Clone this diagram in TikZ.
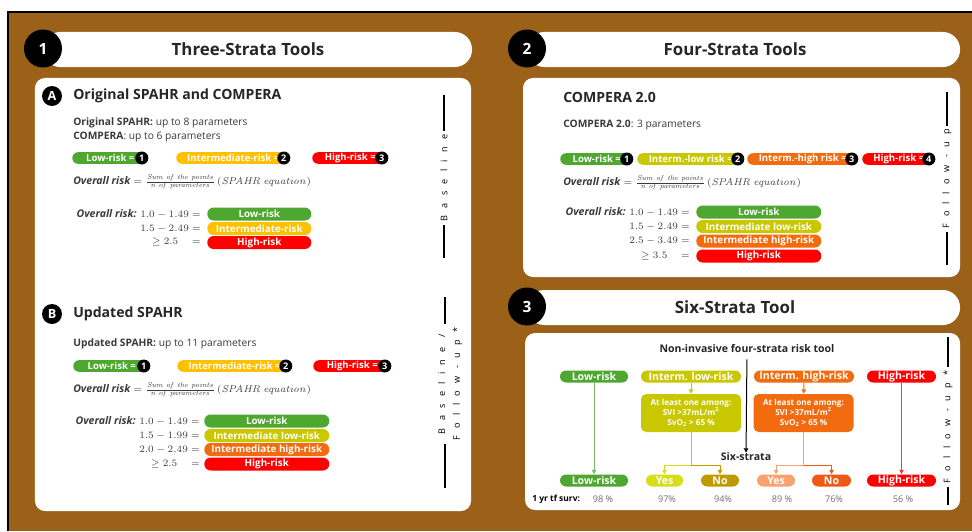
\documentclass[tikz,border=0pt]{standalone}
\usepackage[no-math]{fontspec}
\setmainfont{Open Sans}
\newfontfamily\spacedfont[LetterSpace=80]{Open Sans}
\usepackage{xcolor}
\usepackage{tikz}
\usetikzlibrary{arrows.meta,positioning,calc}
\definecolor{frame}{HTML}{9C6119}
\definecolor{lowgreen}{HTML}{4EA72E}
\definecolor{midgold}{HTML}{FFC000}
\definecolor{highred}{HTML}{FF0000}
\definecolor{lowmid}{HTML}{C9C800}
\definecolor{highmid}{HTML}{F26B0F}
\definecolor{yeslow}{HTML}{D6DE1A}
\definecolor{nolow}{HTML}{BF9A00}
\definecolor{yeshigh}{HTML}{F8A270}
\definecolor{nohigh}{HTML}{EE5A14}
\definecolor{bodygray}{HTML}{3A3A3A}
\definecolor{survgray}{HTML}{6E6E6E}
\tikzset{
  panel/.style={fill=white, rounded corners=2.5mm, inner sep=0pt},
  headpill/.style={fill=white, rounded corners=4.3mm, minimum height=8.75mm, inner sep=0pt},
  headtitle/.style={font=\fontsize{12}{14}\selectfont\bfseries, text=black!85, inner sep=0pt},
  numdot/.style={circle, fill=black, text=white, minimum size=9.5mm, inner sep=0pt, font=\fontsize{11}{13}\selectfont\bfseries},
  letterdot/.style={circle, fill=black, text=white, minimum size=5mm, inner sep=0pt, font=\fontsize{9}{10}\selectfont\bfseries},
  subhead/.style={anchor=west, inner sep=0pt, font=\fontsize{10}{12}\selectfont\bfseries, text=black!85},
  bodytext/.style={anchor=west, align=left, inner sep=0pt, font=\fontsize{7.3}{10}\selectfont, text=bodygray},
  scorepill/.style={anchor=west, rounded corners=1.45mm, minimum height=2.9mm, inner sep=0pt, text=white, font=\fontsize{6.8}{8}\selectfont\bfseries},
  rankdot/.style={anchor=east, circle, fill=black, text=white, minimum size=3.25mm, inner sep=0pt, font=\fontsize{6.5}{7}\selectfont\bfseries},
  eqtext/.style={anchor=west, inner sep=0pt, font=\fontsize{7.5}{9}\selectfont, text=bodygray},
  rangetext/.style={anchor=east, inner sep=0pt, font=\fontsize{7.5}{9}\selectfont, text=bodygray},
  riskbar/.style={anchor=west, rounded corners=1.6mm, minimum height=3.25mm, inner sep=0pt, text=white, font=\fontsize{7}{8}\selectfont\bfseries},
  sidelabel/.style={rotate=90, align=center, inner sep=0pt, font=\spacedfont\fontsize{6.5}{10.5}\selectfont},
  sideline/.style={draw=black, line width=0.3mm},
  flowtitle/.style={inner sep=0pt, font=\fontsize{7.5}{9}\selectfont\bfseries, text=black!85},
  strata/.style={rounded corners=1.5mm, minimum height=3mm, inner sep=0pt, text=white, font=\fontsize{7.5}{8}\selectfont\bfseries},
  critbox/.style={rounded corners=1.3mm, minimum width=25mm, minimum height=9.5mm, inner sep=0pt, align=center, text=white, font=\fontsize{5.8}{7.2}\selectfont\bfseries},
  flow/.style={-{Triangle[length=1.1mm,width=1.1mm]}, line width=0.25mm},
  survtext/.style={inner sep=0pt, font=\fontsize{6.5}{8}\selectfont, text=survgray}
}
\newcommand{\riskeq}{\textbf{\textit{Overall risk}} $=\frac{\mathit{Sum\ of\ the\ points}}{\mathit{n\ of\ parameters}}\,(\mathit{SPAHR\ equation})$}

\begin{document}
\begin{tikzpicture}[x=0.25mm, y=-0.25mm]
  \useasboundingbox (0,0) rectangle (972,531);
  \fill[frame] (8,12) rectangle (972,531);
  \draw[line width=0.4mm] (8,531) -- (8,12) -- (972,12);

  \node[headpill, minimum width=107.25mm] (head1) at (257.5,49.5) {};
  \node[numdot] (num1) at (43,48.5) {1};
  \node[headtitle] (title1) at (248,49.5) {Three-Strata Tools};
  \node[headpill, minimum width=108.25mm] (head2) at (743.5,49.5) {};
  \node[numdot] (num2) at (527,48.5) {2};
  \node[headtitle] (title2) at (735,49.5) {Four-Strata Tools};
  \node[headpill, minimum width=108.25mm] (head3) at (743.5,307.5) {};
  \node[numdot] (num3) at (527,306.5) {3};
  \node[headtitle] (title3) at (735,307.5) {Six-Strata Tool};

  \node[panel, minimum width=109mm, minimum height=108.25mm] (panel1) at (253,294.5) {};
  \node[panel, minimum width=109.25mm, minimum height=49.75mm] (panel2) at (741.5,177.5) {};
  \node[panel, minimum width=108.75mm, minimum height=44.25mm] (panel3) at (742.5,421.5) {};

  \node[letterdot] (dotA) at (52,96) {A};
  \node[subhead] (headA) at (73,96) {Original SPAHR and COMPERA};
  \node[bodytext] (paramsA) at (73,130) {\textbf{Original SPAHR:} up to 8 parameters\\\textbf{COMPERA}: up to 6 parameters};
  \node[scorepill, fill=lowgreen, minimum width=19mm] (aLow) at (72,158) {Low-risk =\hspace{3.2mm}};
  \node[rankdot] (aLowRank) at (aLow.east) {1};
  \node[scorepill, fill=midgold, minimum width=28.5mm] (aMid) at (176,158) {Intermediate-risk =\hspace{3.2mm}};
  \node[rankdot] (aMidRank) at (aMid.east) {2};
  \node[scorepill, fill=highred, minimum width=19mm] (aHigh) at (312,158) {High-risk =\hspace{3.2mm}};
  \node[rankdot] (aHighRank) at (aHigh.east) {3};
  \node[eqtext] (eqA) at (73,182) {\riskeq};
  \node[rangetext] (aRange1) at (201,214) {\textbf{\textit{Overall risk:}} $1.0-1.49=$};
  \node[riskbar, fill=lowgreen, minimum width=26mm] (aBar1) at (207,214) {Low-risk};
  \node[rangetext] (aRange2) at (201,228.5) {$1.5-2.49=$};
  \node[riskbar, fill=midgold, minimum width=26mm] (aBar2) at (207,228.5) {Intermediate-risk};
  \node[rangetext] (aRange3) at (201,242.5) {$\geq 2.5\quad=$};
  \node[riskbar, fill=highred, minimum width=26mm] (aBar3) at (207,242.5) {High-risk};
  \node[sidelabel] (sideA) at (444,178) {Baseline};
  \coordinate (sideAtop) at (444,95);
  \coordinate (sideAbot) at (444,258);
  \draw[sideline, shorten <=0.8mm] (sideA.east -| sideAtop) -- (sideAtop);
  \draw[sideline, shorten <=0.8mm] (sideA.west -| sideAbot) -- (sideAbot);

  \node[letterdot] (dotB) at (52,314) {B};
  \node[subhead] (headB) at (73,314) {Updated SPAHR};
  \node[bodytext] (paramsB) at (73,344) {\textbf{Updated SPAHR:} up to 11 parameters};
  \node[scorepill, fill=lowgreen, minimum width=19.25mm] (bLow) at (73,366) {Low-risk =\hspace{3.2mm}};
  \node[rankdot] (bLowRank) at (bLow.east) {1};
  \node[scorepill, fill=midgold, minimum width=28.75mm] (bMid) at (177,366) {Intermediate-risk =\hspace{3.2mm}};
  \node[rankdot] (bMidRank) at (bMid.east) {2};
  \node[scorepill, fill=highred, minimum width=19.5mm] (bHigh) at (313,366) {High-risk =\hspace{3.2mm}};
  \node[rankdot] (bHighRank) at (bHigh.east) {3};
  \node[eqtext] (eqB) at (73,390) {\riskeq};
  \node[rangetext] (bRange1) at (200,421) {\textbf{\textit{Overall risk:}} $1.0-1.49=$};
  \node[riskbar, fill=lowgreen, minimum width=31.25mm] (bBar1) at (204,421) {Low-risk};
  \node[rangetext] (bRange2) at (200,435.5) {$1.5-1.99=$};
  \node[riskbar, fill=lowmid, minimum width=31.25mm] (bBar2) at (204,435.5) {Intermediate low-risk};
  \node[rangetext] (bRange3) at (200,449.5) {$2.0-2.49=$};
  \node[riskbar, fill=highmid, minimum width=31.25mm] (bBar3) at (204,449.5) {Intermediate high-risk};
  \node[rangetext] (bRange4) at (200,464) {$\geq 2.5\quad=$};
  \node[riskbar, fill=highred, minimum width=31.25mm] (bBar4) at (204,464) {High-risk};
  \node[sidelabel] (sideB) at (450,384) {Baseline /\\Follow-up*};
  \coordinate (sideBtop) at (445,297);
  \coordinate (sideBbot) at (445,488);
  \draw[sideline, shorten <=0.8mm] (sideB.east -| sideBtop) -- (sideBtop);
  \draw[sideline, shorten <=0.8mm] (sideB.west -| sideBbot) -- (sideBbot);

  \node[subhead] (head2b) at (563,97) {COMPERA 2.0};
  \node[bodytext] (params2) at (563,125) {\textbf{COMPERA 2.0}: 3 parameters};
  \node[scorepill, fill=lowgreen, minimum width=18.25mm] (cLow) at (560,159) {Low-risk =\hspace{3.2mm}};
  \node[rankdot] (cLowRank) at (cLow.east) {1};
  \node[scorepill, fill=lowmid, minimum width=26.75mm] (cLowMid) at (637,159) {Interm.-low risk =\hspace{3.2mm}};
  \node[rankdot] (cLowMidRank) at (cLowMid.east) {2};
  \node[scorepill, fill=highmid, minimum width=27.75mm] (cHighMid) at (747,159) {Interm.-high risk =\hspace{3.2mm}};
  \node[rankdot] (cHighMidRank) at (cHighMid.east) {3};
  \node[scorepill, fill=highred, minimum width=18.25mm] (cHigh) at (862,159) {High-risk =\hspace{3.2mm}};
  \node[rankdot] (cHighRank) at (cHigh.east) {4};
  \node[eqtext] (eqC) at (563,183) {\riskeq};
  \node[rangetext] (cRange1) at (690,212) {\textbf{\textit{Overall risk:}} $1.0-1.49=$};
  \node[riskbar, fill=lowgreen, minimum width=31.25mm] (cBar1) at (696,212) {Low-risk};
  \node[rangetext] (cRange2) at (690,226.5) {$1.5-2.49=$};
  \node[riskbar, fill=lowmid, minimum width=31.25mm] (cBar2) at (696,226.5) {Intermediate low-risk};
  \node[rangetext] (cRange3) at (690,241) {$2.5-3.49=$};
  \node[riskbar, fill=highmid, minimum width=31.25mm] (cBar3) at (696,241) {Intermediate high-risk};
  \node[rangetext] (cRange4) at (690,256) {$\geq 3.5\quad=$};
  \node[riskbar, fill=highred, minimum width=31.25mm] (cBar4) at (696,256) {High-risk};
  \node[sidelabel] (side2) at (947,179) {Follow-up};
  \coordinate (side2top) at (947,92);
  \coordinate (side2bot) at (947,265);
  \draw[sideline, shorten <=0.8mm] (side2.east -| side2top) -- (side2top);
  \draw[sideline, shorten <=0.8mm] (side2.west -| side2bot) -- (side2bot);

  \node[flowtitle] (ntitle) at (747,349) {Non-invasive four-strata risk tool};
  \node[strata, fill=lowgreen, minimum width=17mm] (topLow) at (594,376.5) {Low-risk};
  \node[strata, fill=lowmid, minimum width=25mm] (topLowMid) at (691,376.5) {Interm. low-risk};
  \node[strata, fill=highmid, minimum width=25mm] (topHighMid) at (804,376.5) {Interm. high-risk};
  \node[strata, fill=highred, minimum width=17.25mm] (topHigh) at (901.5,376.5) {High-risk};
  \node[critbox, fill=lowmid] (critLow) at (691,413) {At least one among:\\SVI >37mL/m\textsuperscript{2}\\SvO\textsubscript{2} > 65 \%};
  \node[critbox, fill=highmid] (critHigh) at (803.5,413) {At least one among:\\SVI >37mL/m\textsuperscript{2}\\SvO\textsubscript{2} > 65 \%};
  \node[flowtitle] (stitle) at (746,457) {Six-strata};
  \node[strata, fill=lowgreen, minimum width=17mm] (endLow) at (594,480.5) {Low-risk};
  \node[strata, fill=yeslow, minimum width=9.25mm] (yesLow) at (664.5,480.5) {Yes};
  \node[strata, fill=nolow, minimum width=9.5mm] (noLow) at (720,480.5) {No};
  \node[strata, fill=yeshigh, minimum width=9.5mm] (yesHigh) at (776,480.5) {Yes};
  \node[strata, fill=nohigh, minimum width=9.75mm] (noHigh) at (831.5,480.5) {No};
  \node[strata, fill=highred, minimum width=17.25mm] (endHigh) at (901.5,480.5) {High-risk};
  \coordinate (forkLow) at (691,465);
  \coordinate (forkHigh) at (803.5,465);
  \draw[flow, shorten <=1.5mm] (ntitle) -- (stitle);
  \draw[flow, lowgreen!75] (topLow) -- (endLow);
  \draw[flow, lowmid] (topLowMid) -- (critLow);
  \draw[lowmid, line width=0.25mm] (critLow) -- (forkLow);
  \draw[flow, yeslow] (forkLow) -| (yesLow);
  \draw[flow, nolow] (forkLow) -| (noLow);
  \draw[flow, highmid] (topHighMid) -- (critHigh);
  \draw[yeshigh, line width=0.25mm] (critHigh) -- (forkHigh);
  \draw[flow, yeshigh] (forkHigh) -| (yesHigh);
  \draw[flow, nohigh] (forkHigh) -| (noHigh);
  \draw[flow, highred!80] (topHigh) -- (endHigh);
  \node[survtext, anchor=west, text=black, font=\fontsize{6}{8}\selectfont\bfseries] (survTitle) at (532,499) {1 yr tf surv:};
  \node[survtext] (surv1) at (603,499) {98 \%};
  \node[survtext] (surv2) at (667,499) {97\%};
  \node[survtext] (surv3) at (723,499) {94\%};
  \node[survtext] (surv4) at (782,499) {89 \%};
  \node[survtext] (surv5) at (834,499) {76\%};
  \node[survtext] (surv6) at (903,499) {56 \%};
  \node[sidelabel] (side3) at (948,427) {Follow-up*};
  \coordinate (side3top) at (948,337);
  \coordinate (side3bot) at (948,505);
  \draw[sideline, shorten <=0.8mm] (side3.east -| side3top) -- (side3top);
  \draw[sideline, shorten <=0.8mm] (side3.west -| side3bot) -- (side3bot);
\end{tikzpicture}
\end{document}
